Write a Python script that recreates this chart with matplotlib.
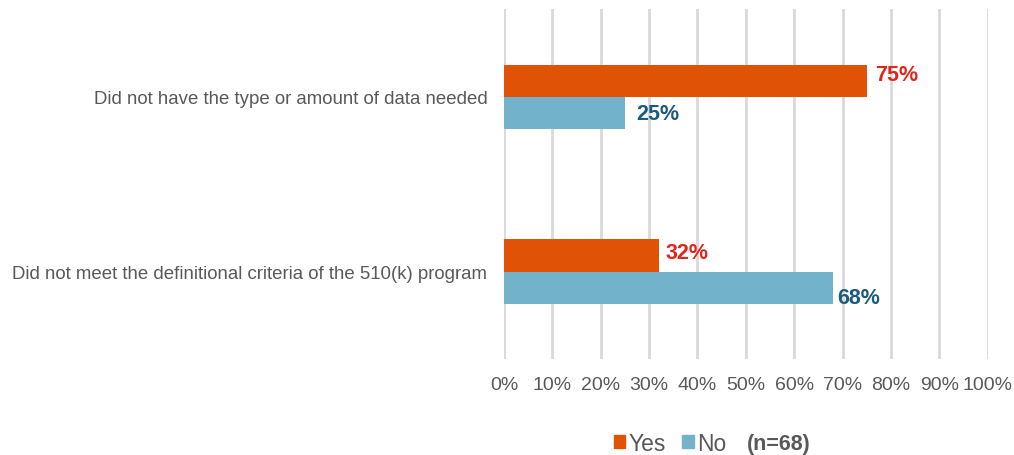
import numpy as np
import matplotlib.pyplot as plt
from matplotlib.patches import Patch

plt.rcParams['font.family'] = ['Liberation Sans', 'DejaVu Sans']

categories = ["Did not have the type or amount of data needed",
              "Did not meet the definitional criteria of the 510(k) program"]
yes_vals = [75, 32]
no_vals = [25, 68]
x_ticks = list(range(0, 101, 10))
yes_color = "#E05206"
no_color = "#72B3CB"

fig = plt.figure(figsize=(10.14, 4.56), dpi=100)
ax = fig.add_axes([0.497, 0.2105, 0.477, 0.7675])

pos = np.arange(len(categories))
h = 0.183
ax.barh(pos - h / 2, yes_vals, height=h, color=yes_color, zorder=3)
ax.barh(pos + h / 2, no_vals, height=h, color=no_color, zorder=3)

# the value labels in the original sit a little off the bar centres
yes_nudge = [(6.0, 4.1), (4.6, 2.4)]
no_nudge = [(8.1, -0.7), (2.9, -7.2)]
for p, v, off in zip(pos, yes_vals, yes_nudge):
    ax.annotate(f"{v}%", (v, p - h / 2), xytext=off, textcoords="offset points",
                va="center", ha="left", color="#E0261B", fontsize=15.5,
                fontweight="bold")
for p, v, off in zip(pos, no_vals, no_nudge):
    ax.annotate(f"{v}%", (v, p + h / 2), xytext=off, textcoords="offset points",
                va="center", ha="left", color="#1C5A7D", fontsize=15.5,
                fontweight="bold")

ax.set_xlim(0, 100)
ax.set_ylim(1.5, -0.5)
ax.set_xticks(x_ticks)
ax.set_xticklabels([f"{t}%" for t in x_ticks], color="#595959", fontsize=14)
ax.set_yticks(pos)
ax.set_yticklabels(categories, color="#595959", fontsize=13.4)
ax.tick_params(axis="y", length=0, pad=12)
ax.tick_params(axis="x", length=0, pad=12)
ax.grid(axis="x", color="#D9D9D9", linewidth=2, zorder=0)
for s in ax.spines.values():
    s.set_visible(False)

# legend: small squares, then the sample size in bold
handles = [Patch(color=yes_color, label="Yes"), Patch(color=no_color, label="No")]
leg = fig.legend(handles=handles, loc="center", bbox_to_anchor=(0.661, 0.026),
                 ncol=2, frameon=False, fontsize=16.5, handlelength=0.5,
                 handleheight=0.5, handletextpad=0.15, columnspacing=0.7,
                 borderpad=0, borderaxespad=0)
for t in leg.get_texts():
    t.set_color("#595959")
fig.text(0.737, 0.026, "(n=68)", ha="left", va="center", color="#595959",
         fontsize=15.5, fontweight="bold")

fig.savefig("out.png", dpi=100)
